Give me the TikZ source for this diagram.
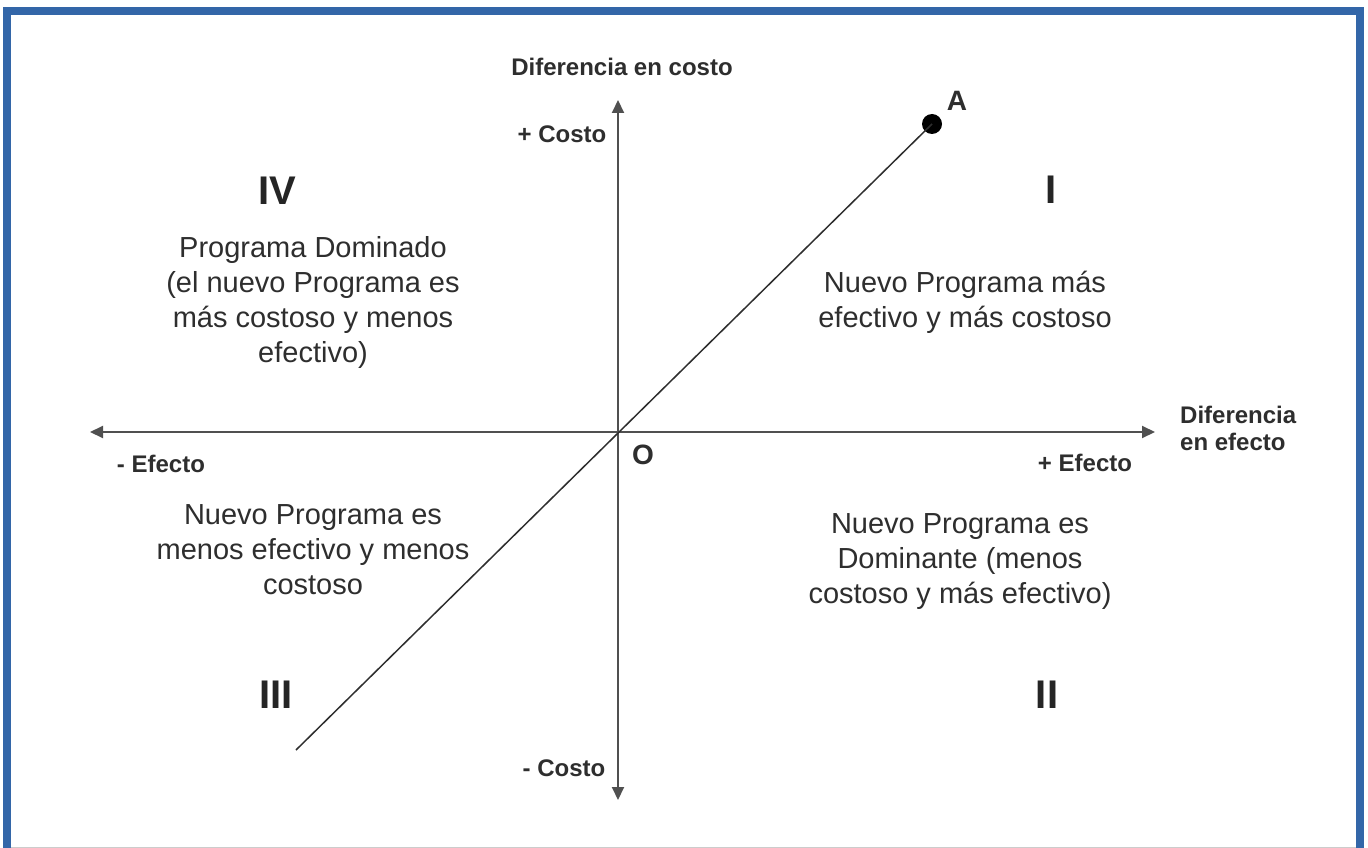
\documentclass[tikz,border=0pt]{standalone}
\usepackage{fontspec}
\setmainfont{Liberation Sans}
\usetikzlibrary{arrows.meta}
\definecolor{frameblue}{HTML}{3366A8}
\definecolor{txt}{HTML}{2E2E2E}
\definecolor{axis}{HTML}{505050}
\tikzset{
  body/.style={text=txt, align=center, inner sep=0pt, font=\fontsize{29}{35}\selectfont},
  lbl/.style={text=txt, inner sep=0pt, font=\fontsize{24}{29}\selectfont\bfseries},
  biglbl/.style={text=txt, inner sep=0pt, font=\fontsize{28}{32}\selectfont\bfseries},
  roman/.style={text=txt!80!black, inner sep=0pt, font=\fontsize{40}{44}\selectfont\bfseries},
  axisline/.style={draw=axis, line width=2pt, -{Triangle[length=13pt,width=12pt]}},
  diag/.style={draw=txt, line width=1.5pt},
}
\begin{document}
\begin{tikzpicture}[x=1pt,y=-1pt]
\useasboundingbox (0,0) rectangle (1368,848);
\fill[white] (0,0) rectangle (1368,848);
% frame
\fill[frameblue] (3,7) rectangle (11,848);
\fill[frameblue] (3,7) rectangle (1364,15);
\fill[frameblue] (1356,7) rectangle (1364,848);
\draw[color=gray!40, line width=1pt] (11,847.5) -- (1356,847.5);

% axes
\coordinate (O) at (618,432);
\coordinate (ytop) at (618,100);
\coordinate (ybot) at (618,800);
\coordinate (xl) at (90,432);
\coordinate (xr) at (1155,432);
\draw[axisline] (O) -- (ytop);
\draw[axisline] (O) -- (ybot);
\draw[axisline] (O) -- (xl);
\draw[axisline] (O) -- (xr);

% diagonal
\node[circle, fill=black, inner sep=0pt, minimum size=20pt] (dotA) at (932,124) {};
\coordinate (dstart) at (296,750);
\draw[diag] (dstart) -- (dotA.center);

% axis labels
\node[lbl] (ycap) at (622,67) {Diferencia en costo};
\node[lbl] (pcosto) at (562,134) {+ Costo};
\node[lbl] (mcosto) at (564,768) {- Costo};
\node[lbl] (mefecto) at (161,464) {- Efecto};
\node[lbl] (pefecto) at (1085,463) {+ Efecto};
\node[lbl, align=left, anchor=west] (xcap) at (1180,428) {Diferencia\\[-2pt]en efecto};
\node[biglbl] (Olbl) at (643,455) {O};
\node[biglbl] (Albl) at (957,101) {A};

% quadrant numerals
\node[roman] (qIV) at (277,191) {IV};
\node[roman] (qI) at (1051,190) {I};
\node[roman] (qIII) at (276,695) {III};
\node[roman] (qII) at (1047,695) {II};

% quadrant texts
\node[body] (tIV) at (313,302) {Programa Dominado\\(el nuevo Programa es\\más costoso y menos\\efectivo)};
\node[body] (tI) at (965,302) {Nuevo Programa más\\efectivo y más costoso};
\node[body] (tIII) at (313,550) {Nuevo Programa es\\menos efectivo y menos\\costoso};
\node[body] (tII) at (960,562) {Nuevo Programa es\\Dominante (menos\\costoso y más efectivo)};
\end{tikzpicture}
\end{document}
